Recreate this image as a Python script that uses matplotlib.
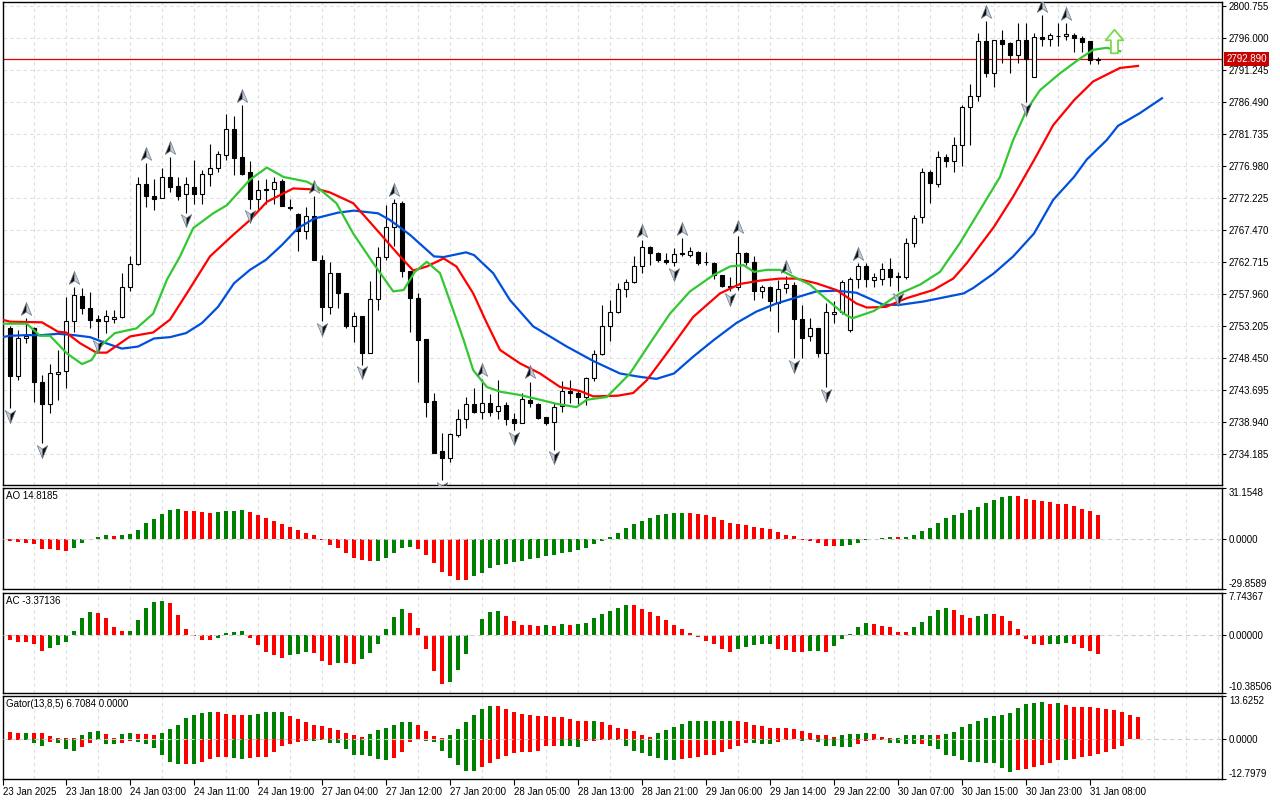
import matplotlib
matplotlib.use("Agg")
import matplotlib.pyplot as plt
import numpy as np
from matplotlib.path import Path

plt.rcParams["font.family"] = ["Liberation Sans", "DejaVu Sans"]
plt.rcParams["font.size"] = 7

# ---- price candles (H1 XAUUSD), bar index 0..136 ----
opens = [
    2752.8, 2745.8, 2751.4, 2752.8, 2744.8, 2741.5, 2746.0, 2746.4, 2753.9, 2757.6,
    2755.8, 2754.2, 2753.9, 2754.2, 2754.5, 2758.9, 2762.4, 2774.2, 2772.4, 2772.2,
    2775.3, 2773.9, 2772.7, 2773.8, 2772.7, 2775.8, 2776.7, 2778.6, 2782.4, 2778.2,
    2776.0, 2772.0, 2773.5, 2773.5, 2774.7, 2770.9, 2769.8, 2767.3, 2769.5, 2762.9,
    2756.0, 2761.0, 2758.0, 2753.1, 2754.6, 2749.2, 2757.1, 2763.4, 2767.8, 2771.4,
    2761.4, 2757.3, 2751.2, 2742.0, 2734.6, 2733.6, 2736.9, 2739.4, 2741.5, 2740.4,
    2741.7, 2740.5, 2741.4, 2739.4, 2738.8, 2742.2, 2741.5, 2739.6, 2738.9, 2741.2,
    2743.5, 2743.2, 2742.6, 2745.5, 2749.0, 2753.1, 2755.3, 2758.6, 2759.7, 2762.1,
    2764.9, 2764.0, 2763.0, 2762.6, 2764.0, 2763.7, 2764.2, 2762.7, 2762.5, 2760.7,
    2759.1, 2758.9, 2764.0, 2762.7, 2758.3, 2759.0, 2756.5, 2758.8, 2759.2, 2754.2,
    2751.6, 2752.8, 2749.1, 2755.0, 2755.3, 2752.6, 2760.1, 2762.0, 2760.0, 2760.2,
    2761.7, 2760.5, 2760.5, 2765.5, 2769.3, 2776.1, 2774.3, 2778.2, 2777.6, 2780.1,
    2785.7, 2787.4, 2795.5, 2790.7, 2795.6, 2795.2, 2793.4, 2795.6, 2790.2, 2796.1,
    2795.8, 2796.3, 2796.3, 2796.4, 2795.9, 2795.5, 2792.7,
]
highs = [
    2753.2, 2752.6, 2754.4, 2753.0, 2745.9, 2747.5, 2749.6, 2757.5, 2758.9, 2758.8,
    2758.2, 2754.8, 2755.5, 2755.6, 2761.0, 2763.5, 2775.3, 2777.4, 2775.0, 2776.7,
    2778.3, 2775.3, 2775.3, 2777.8, 2776.3, 2780.2, 2779.2, 2784.7, 2784.4, 2786.0,
    2777.6, 2774.9, 2775.0, 2775.3, 2775.0, 2772.1, 2770.0, 2770.9, 2772.5, 2763.7,
    2762.7, 2761.0, 2758.0, 2755.3, 2754.6, 2759.8, 2764.9, 2771.1, 2772.0, 2771.8,
    2761.4, 2758.0, 2751.2, 2743.2, 2737.2, 2737.2, 2740.8, 2742.6, 2743.9, 2745.3,
    2743.0, 2745.1, 2741.9, 2740.3, 2743.2, 2744.9, 2741.7, 2739.7, 2741.7, 2745.0,
    2745.1, 2743.6, 2745.6, 2749.6, 2756.3, 2757.0, 2759.5, 2760.2, 2763.6, 2765.9,
    2765.0, 2764.2, 2764.0, 2764.7, 2766.2, 2764.9, 2764.3, 2764.2, 2762.7, 2760.7,
    2760.5, 2766.5, 2764.2, 2763.5, 2759.3, 2759.1, 2760.0, 2760.6, 2759.7, 2756.3,
    2754.3, 2752.8, 2756.5, 2756.8, 2760.0, 2760.5, 2762.5, 2762.5, 2761.0, 2762.5,
    2763.2, 2761.2, 2766.3, 2769.7, 2776.6, 2776.3, 2779.2, 2778.7, 2781.3, 2786.0,
    2789.1, 2796.7, 2798.5, 2795.6, 2797.1, 2795.3, 2798.2, 2798.2, 2796.7, 2799.4,
    2796.7, 2798.2, 2798.2, 2796.7, 2796.3, 2795.5, 2793.2,
]
lows = [
    2740.9, 2745.1, 2750.6, 2741.9, 2735.8, 2740.3, 2742.1, 2744.0, 2752.3, 2754.9,
    2752.8, 2751.3, 2752.1, 2753.6, 2754.3, 2758.3, 2762.2, 2770.9, 2770.4, 2772.2,
    2773.1, 2771.9, 2770.0, 2771.3, 2771.3, 2773.9, 2776.1, 2777.8, 2775.6, 2775.6,
    2770.6, 2770.6, 2771.3, 2771.3, 2771.0, 2770.4, 2764.3, 2766.1, 2762.9, 2753.9,
    2755.0, 2755.8, 2752.8, 2750.8, 2747.4, 2749.2, 2755.6, 2763.0, 2765.0, 2760.5,
    2752.3, 2744.9, 2739.6, 2734.3, 2730.3, 2733.0, 2736.7, 2738.0, 2740.2, 2739.3,
    2739.8, 2739.4, 2738.4, 2737.7, 2738.8, 2741.1, 2739.3, 2738.4, 2734.8, 2740.4,
    2741.7, 2741.5, 2741.4, 2745.0, 2748.8, 2751.0, 2755.1, 2757.4, 2759.6, 2761.0,
    2762.2, 2762.6, 2762.4, 2762.1, 2763.6, 2763.4, 2762.2, 2762.2, 2760.1, 2759.0,
    2758.3, 2758.5, 2762.2, 2757.0, 2757.3, 2755.4, 2752.2, 2758.0, 2748.4, 2748.4,
    2751.0, 2748.6, 2744.1, 2753.6, 2754.9, 2752.3, 2758.8, 2758.9, 2759.0, 2759.2,
    2759.1, 2758.3, 2760.2, 2764.9, 2768.5, 2771.4, 2773.8, 2776.8, 2776.1, 2777.0,
    2780.1, 2786.6, 2790.2, 2788.7, 2792.2, 2790.7, 2792.2, 2786.5, 2790.2, 2794.7,
    2794.7, 2794.7, 2795.6, 2793.9, 2793.9, 2792.1, 2792.1,
]
closes = [
    2745.8, 2751.3, 2751.7, 2744.8, 2741.5, 2746.1, 2746.3, 2753.9, 2757.8, 2755.8,
    2754.0, 2753.9, 2754.7, 2754.5, 2758.9, 2762.4, 2774.2, 2772.4, 2772.1, 2775.3,
    2773.8, 2772.5, 2774.2, 2772.7, 2775.8, 2776.7, 2778.7, 2782.4, 2778.1, 2775.7,
    2772.1, 2773.4, 2773.4, 2774.6, 2771.0, 2770.7, 2767.3, 2769.5, 2762.9, 2756.0,
    2761.0, 2758.0, 2753.1, 2754.6, 2749.2, 2757.1, 2763.4, 2767.9, 2771.4, 2761.4,
    2757.3, 2751.1, 2741.9, 2734.3, 2733.6, 2737.1, 2739.3, 2741.5, 2740.4, 2741.7,
    2740.4, 2741.3, 2739.4, 2738.7, 2742.3, 2741.7, 2739.5, 2738.7, 2741.1, 2743.5,
    2743.2, 2742.6, 2745.5, 2749.0, 2753.1, 2755.3, 2758.6, 2759.7, 2762.1, 2764.9,
    2764.0, 2763.0, 2762.6, 2763.8, 2763.8, 2764.3, 2762.5, 2762.6, 2760.7, 2759.1,
    2758.9, 2764.0, 2762.7, 2758.3, 2759.0, 2756.8, 2758.6, 2759.4, 2754.2, 2751.4,
    2752.8, 2749.2, 2755.2, 2755.2, 2759.7, 2760.1, 2762.0, 2760.1, 2760.4, 2761.7,
    2760.4, 2760.4, 2765.5, 2769.2, 2776.1, 2774.4, 2778.2, 2777.6, 2780.1, 2785.7,
    2787.4, 2795.5, 2790.7, 2795.6, 2795.1, 2793.4, 2795.6, 2792.9, 2796.1, 2795.8,
    2796.4, 2796.2, 2796.5, 2795.9, 2795.4, 2792.7, 2792.89,
]
last_price = 2792.890

up_fractals = [2, 8, 17, 20, 29, 38, 48, 59, 65, 79, 84, 91, 97, 106, 122, 129, 132]
down_fractals = [0, 4, 11, 22, 30, 39, 44, 54, 63, 68, 83, 90, 98, 102, 111, 127]
signal_bar, signal_price = 138, 2795.5

# ---- Alligator lines (bar index, price) ----
jaw_x = [-1, 0, 2, 4, 6, 8, 10, 12, 14, 16, 18, 20, 22, 24, 26, 28, 30, 32, 34, 36, 38, 41, 43, 46,
         47.5, 50, 53, 54.2, 57, 58, 60.4, 62.5, 65.4, 69.6, 73, 76.25, 78.75, 80.8, 83, 85.4, 88,
         90.8, 93.3, 95.8, 98.3, 100.8, 103.3, 105.8, 109.2, 111.25, 114.2, 119.2, 120.4, 123, 125.4,
         128, 130.4, 133, 134.6, 137.1, 138.5, 141.25, 144]
jaw_y = [2751.5, 2751.7, 2751.8, 2751.8, 2752.0, 2751.8, 2751.5, 2750.6, 2749.8, 2750.1, 2751.3,
         2751.5, 2752.1, 2753.6, 2756.0, 2759.5, 2761.5, 2763.0, 2765.2, 2767.7, 2769.1, 2770.0,
         2770.3, 2769.9, 2768.9, 2766.7, 2763.5, 2763.4, 2764.1, 2763.7, 2761.0, 2757.0, 2753.1,
         2750.1, 2747.9, 2746.1, 2745.6, 2745.3, 2746.1, 2748.6, 2751.1, 2753.6, 2755.3, 2756.5,
         2757.4, 2758.3, 2758.4, 2758.1, 2756.3, 2756.3, 2756.8, 2758.0, 2758.8, 2761.0, 2763.5,
         2766.9, 2771.9, 2775.3, 2777.9, 2780.8, 2782.9, 2784.8, 2787.0]
teeth_x = [-1, 0, 4, 6, 7, 8.75, 10.8, 12.1, 15, 17.9, 20, 22.1, 25, 27.9, 30, 32.1, 35.4, 38.75, 40,
           42.9, 46.25, 48.75, 50.4, 52.1, 54.2, 55.8, 57.9, 59.6, 61.25, 63.75, 66.25, 68.75, 71.25,
           72.9, 76, 77.9, 79.6, 82.1, 85.4, 88.75, 91.25, 93.75, 96.25, 98.3, 100.8, 103.3, 105.8,
           107.1, 109.5, 112.1, 115.4, 117.9, 119.6, 123, 125.4, 128, 130.4, 133, 135.4, 138.75, 141]
teeth_y = [2754.1, 2753.8, 2753.7, 2752.3, 2752.2, 2750.6, 2749.2, 2749.2, 2751.6, 2752.2, 2754.1,
           2758.0, 2763.5, 2766.7, 2768.9, 2771.6, 2773.6, 2773.4, 2773.0, 2771.4, 2766.9, 2763.5,
           2761.4, 2762.0, 2763.2, 2762.0, 2758.0, 2753.6, 2749.6, 2747.6, 2746.1, 2744.1, 2743.5,
           2742.7, 2742.8, 2743.2, 2745.1, 2749.1, 2754.5, 2758.0, 2759.4, 2759.9, 2760.2, 2760.2,
           2759.5, 2758.5, 2756.5, 2755.9, 2756.0, 2757.3, 2758.5, 2760.2, 2762.5, 2767.9, 2772.4,
           2777.8, 2783.0, 2786.7, 2789.5, 2791.5, 2791.8]
lips_x = [-1, 2.1, 3.75, 5, 7.1, 9, 10.2, 11.25, 13.1, 15.8, 17.9, 19.6, 21.25, 22.9, 25.4, 27.1, 30,
          32.1, 34.2, 37.1, 38.5, 40.8, 42.9, 45.4, 47.9, 49.2, 50.6, 52.1, 53.75, 55.4, 56.7, 57.9,
          59.6, 61.25, 63.75, 66.25, 68.3, 70.8, 72.1, 74.6, 77.5, 80, 82.5, 85, 87.9, 90, 91.7, 93,
          94.6, 96.25, 97.9, 100, 101.7, 104.2, 105.3, 108, 111.25, 113.75, 116.25, 118.75, 121.25,
          123.75, 125.4, 127.1, 128.75, 131.25, 133.75, 135.4, 137.1, 138.75]
lips_y = [2753.5, 2753.5, 2751.7, 2751.7, 2749.1, 2747.5, 2748.1, 2750.1, 2752.1, 2752.8, 2755.0,
          2760.0, 2763.5, 2767.7, 2769.9, 2771.1, 2774.9, 2776.7, 2775.3, 2774.6, 2773.7, 2771.4,
          2766.9, 2762.5, 2758.3, 2758.5, 2761.2, 2762.7, 2761.0, 2755.5, 2751.1, 2746.6, 2744.1,
          2743.4, 2742.9, 2742.2, 2741.6, 2741.1, 2742.2, 2742.6, 2746.1, 2750.6, 2755.0, 2758.3,
          2760.7, 2762.0, 2762.2, 2761.2, 2761.5, 2761.5, 2760.5, 2759.3, 2757.5, 2755.0, 2754.3,
          2755.4, 2758.0, 2759.3, 2761.2, 2765.5, 2770.4, 2775.3, 2780.8, 2785.3, 2788.2, 2790.7,
          2792.9, 2794.2, 2794.5, 2794.0]

# ---- Awesome Oscillator ----
ao_values = [
    -1.0, -1.6, -2.1, -3.1, -5.9, -5.7, -6.5, -7.1, -5.4, -2.1,
    0.3, 1.2, 2.6, 1.8, 2.6, 3.1, 5.9, 9.8, 12.4, 15.5,
    17.7, 18.3, 17.1, 17.0, 16.7, 15.9, 16.3, 17.1, 17.2, 17.7,
    16.7, 14.9, 12.9, 11.3, 9.0, 7.7, 5.7, 4.1, 2.6, -0.2,
    -3.3, -5.4, -8.3, -11.3, -12.4, -12.9, -12.8, -11.3, -8.3, -5.1,
    -4.6, -5.9, -9.5, -14.2, -19.5, -22.2, -24.2, -24.3, -22.2, -20.1,
    -17.5, -15.4, -14.7, -13.6, -12.9, -11.8, -11.3, -10.0, -9.5, -8.3,
    -7.7, -6.5, -5.3, -2.9, -1.0, 1.2, 4.1, 7.1, 9.5, 11.3,
    12.9, 14.7, 15.4, 15.9, 16.0, 15.9, 15.4, 14.6, 13.6, 11.8,
    10.0, 9.5, 8.8, 7.7, 7.1, 6.5, 4.7, 2.9, 1.8, -0.2,
    -1.0, -2.3, -4.1, -4.15, -4.1, -3.6, -2.3, -0.4, 0.3, 0.6,
    1.6, 1.2, 1.6, 2.9, 5.3, 7.1, 10.0, 12.9, 14.9, 15.9,
    17.7, 19.5, 21.9, 23.6, 25.4, 26.0, 25.95, 24.2, 23.6, 23.0,
    22.4, 21.3, 21.2, 20.1, 18.3, 17.1, 14.8,
]
ao_colors = ("rrrrrrrrgg" "gggrgggggg" "ggrrrrgggg" "rrrrrrrrrr" "rrrrrrgggg"
             "grrrrrrrgg" "gggggggggg" "gggggggggg" "gggggrrrrr" "rrrrrrrrrr"
             "rrrrgggggg" "grgggggggg" "ggggggrrrr" "rrrrrrr")

# ---- Accelerator Oscillator ----
ac_values = [
    -0.91, -1.21, -1.27, -1.64, -2.91, -2.31, -1.82, -1.27, 0.73, 3.16,
    4.13, 4.1, 3.10, 1.46, 0.73, 0.75, 2.73, 4.98, 6.01, 6.19,
    5.77, 3.64, 1.21, -0.1, -0.85, -0.87, -0.49, 0.49, 0.5, 0.85,
    -0.49, -1.82, -3.1, -3.64, -4.13, -3.64, -3.4, -3.1, -3.22, -4.73,
    -5.46, -5.04, -5.06, -5.28, -4.37, -3.22, -1.64, 1.09, 3.28, 4.73,
    4.0, 1.27, -2.55, -6.49, -8.92, -8.5, -6.31, -3.46, 0.1, 2.91,
    4.19, 4.37, 3.46, 2.55, 1.82, 1.8, 1.64, 1.82, 1.64, 2.0,
    1.82, 2.0, 2.19, 3.1, 3.82, 4.37, 4.92, 5.46, 5.44, 4.73,
    4.19, 3.46, 2.73, 1.82, 1.09, 0.36, -0.36, -1.09, -1.64, -2.55,
    -3.1, -2.55, -2.19, -1.82, -1.64, -1.62, -2.55, -2.73, -3.1, -3.12,
    -2.91, -2.9, -3.1, -2.0, -0.73, 0.18, 1.46, 2.19, 2.0, 1.64,
    1.52, 0.61, 0.6, 1.4, 2.43, 3.52, 4.61, 4.98, 4.61, 3.7,
    3.16, 3.52, 3.88, 3.86, 3.52, 2.61, 1.15, -0.73, -1.52, -1.7,
    -1.65, -1.6, -1.33, -1.52, -2.24, -2.79, -3.37,
]
ac_colors = ("rrrrrggggg" "grrrrggggg" "rrrrrrgggg" "rrrrrgggrr" "rgrrgggggg"
             "rrrrrggggg" "ggrrrrrgrg" "rgggggggrr" "rrrrrrrrrr" "rgggggrrrr"
             "ggrgggggrr" "rrrgggggrr" "rggrrrrrrr" "gggrrrr")

# ---- Gator Oscillator (first value is bar -1) ----
gator_start = -1
gator_up = [
    2.75, 2.1, 1.9, 1.65, 1.9, 1.9, 0.8, 0.1, 0.1, 0.1, 1.0,
    2.0, 2.4, 1.4, 0.3, 1.4, 1.65, 1.4, 1.4, 1.1, 1.65,
    3.0, 4.4, 6.4, 7.4, 8.0, 8.25, 8.25, 7.9, 7.6, 7.4,
    7.6, 7.7, 8.25, 8.3, 8.3, 7.1, 6.05, 5.2, 4.4, 4.1,
    3.4, 2.75, 1.65, 1.0, 0.55, 1.4, 2.75, 3.3, 4.2, 5.1,
    5.1, 4.4, 2.4, 0.8, 0.1, 1.1, 3.1, 5.1, 7.4, 9.35,
    10.3, 10.3, 9.35, 8.4, 7.7, 7.4, 7.0, 7.0, 6.7, 6.7,
    6.05, 5.4, 5.4, 5.4, 5.1, 4.4, 3.4, 3.0, 2.4, 1.1,
    0.45, 1.75, 2.75, 3.75, 4.7, 5.4, 5.4, 5.4, 5.4, 5.7,
    5.7, 5.4, 5.1, 4.4, 4.05, 3.4, 3.4, 3.4, 3.0, 2.4,
    1.75, 1.1, 1.1, 0.45, 1.1, 1.4, 1.4, 1.75, 1.4, 0.45,
    0.1, 0.2, 1.0, 1.1, 1.1, 1.1, 1.1, 1.4, 2.2, 3.75,
    4.7, 5.7, 6.4, 7.0, 7.35, 8.0, 9.55, 10.8, 11.2, 11.45,
    10.8, 11.2, 10.5, 9.85, 9.85, 9.85, 9.55, 9.25, 8.9, 8.3, 7.35, 6.71,
]
gator_up_colors = ("rrrgrrrrrrg" "ggrrggrrrg" "ggggggrrrr" "gggggrrrrr" "rrrrrggggg"
                   "grrrrggggg" "grrrrrrrrr" "rrrgrrrrrr" "rggggggggg" "grrrrrrrrr"
                   "rrrrggggrr" "rgggggrggg" "gggggggggg" "rgrrrrrrrrrr")
gator_down = [
    0.0, -0.3, -0.3, -0.3, -1.4, -2.2, -1.1, -1.4, -3.4, -3.9, -2.75,
    -1.5, -0.3, -1.8, -1.8, -1.4, -0.8, -1.1, -1.8, -3.1, -5.2,
    -7.5, -8.1, -8.1, -8.15, -7.4, -6.4, -5.9, -5.7, -6.05, -6.4,
    -6.05, -5.8, -5.7, -4.1, -2.2, -1.65, -1.0, -0.8, -0.85, -0.55,
    -1.4, -1.4, -3.4, -5.2, -5.2, -5.5, -6.4, -6.8, -6.05, -4.1,
    -1.1, -0.55, -0.8, -1.1, -3.85, -6.05, -8.4, -10.3, -10.3, -9.1,
    -7.7, -6.4, -5.5, -4.7, -4.4, -4.4, -3.85, -2.5, -2.5, -2.5,
    -2.5, -2.75, -0.8, -0.8, -0.55, -0.3, -0.55, -2.4, -3.85, -4.7,
    -5.4, -6.05, -6.7, -6.7, -6.4, -6.05, -5.7, -5.05, -5.05, -4.4,
    -3.3, -2.2, -1.4, -1.4, -1.65, -1.75, -1.1, -0.55, -0.2, -0.8,
    -0.55, -1.1, -2.4, -2.4, -2.75, -2.75, -1.75, -0.8, -0.55, -0.6,
    -1.4, -1.4, -1.75, -1.75, -1.75, -2.2, -3.4, -5.05, -5.4, -6.7,
    -7.4, -7.4, -7.7, -7.65, -9.25, -10.5, -10.0, -9.65, -8.9, -8.4,
    -7.65, -6.85, -6.85, -6.5, -5.9, -5.55, -4.95, -4.3, -3.35, -2.4,
]
gator_down_colors = ("rrrgggrgggr" "rrggrrgggg" "ggrgrrrrgg" "rrrrrrrrgg" "ggggggggrr"
                     "rrgggggggr" "rrrrrrrrrg" "ggrrrrgggg" "ggggrrrrrr" "rrrgggrrgg"
                     "rgggggrrrg" "ggggrggggg" "ggggggrrrr" "rrgrrrrrrr")

time_labels = ["23 Jan 2025", "23 Jan 18:00", "24 Jan 03:00", "24 Jan 11:00", "24 Jan 19:00",
               "27 Jan 04:00", "27 Jan 12:00", "27 Jan 20:00", "28 Jan 05:00", "28 Jan 13:00",
               "28 Jan 21:00", "29 Jan 06:00", "29 Jan 14:00", "29 Jan 22:00", "30 Jan 07:00",
               "30 Jan 15:00", "30 Jan 23:00", "31 Jan 08:00"]

price_ticks = [2800.755, 2796.000, 2791.245, 2786.490, 2781.735, 2776.980, 2772.225, 2767.470,
               2762.715, 2757.960, 2753.205, 2748.450, 2743.695, 2738.940, 2734.185]

GREEN = "#008000"
RED = "#ff0000"
COLOR_MAP = {"g": GREEN, "r": RED}
GRID = "#dedede"
X_LEFT, X_RIGHT = -0.875, 151.5


def px_rect(left, top, right, bottom, w=1280, h=800):
    return [left / w, 1 - bottom / h, (right - left) / w, (bottom - top) / h]


fig = plt.figure(figsize=(12.8, 8), dpi=100)
ax_main = fig.add_axes(px_rect(3, 2, 1222, 485))
ax_ao = fig.add_axes(px_rect(3, 487.5, 1222, 589))
ax_ac = fig.add_axes(px_rect(3, 592.5, 1222, 692.5))
ax_gt = fig.add_axes(px_rect(3, 695.5, 1222, 779))

grid_bars = np.arange(3, 152, 4)
for ax in (ax_main, ax_ao, ax_ac, ax_gt):
    ax.set_xlim(X_LEFT, X_RIGHT)
    ax.set_xticks([])
    ax.set_xticks(grid_bars, minor=True)
    ax.grid(which="minor", axis="x", color=GRID, linestyle=(0, (3, 3)), linewidth=0.8)
    ax.tick_params(axis="x", which="minor", length=0)
    ax.set_axisbelow(True)
    ax.yaxis.tick_right()
    ax.tick_params(axis="y", direction="out", length=3, width=0.8, pad=2, labelsize=7, colors="black")
    for sp in ax.spines.values():
        sp.set_color("black")
        sp.set_linewidth(1.0)

# ---- main price panel ----
o = np.array(opens)
h = np.array(highs)
lo = np.array(lows)
c = np.array(closes)
bars = np.arange(len(o))
bull = c >= o

ax_main.axhline(last_price, color="#e00000", linewidth=0.9, zorder=1.5)
ax_main.vlines(bars, lo, h, color="black", linewidth=0.8, zorder=2)
body_low = np.minimum(o, c)
body_h = np.maximum(np.abs(c - o), 0.12)
ax_main.bar(bars, body_h, bottom=body_low, width=0.62,
            color=np.where(bull, "white", "black"), edgecolor="black", linewidth=0.8, zorder=3)

ax_main.plot(jaw_x, jaw_y, color="#0050dc", linewidth=1.6, zorder=4)
ax_main.plot(teeth_x, teeth_y, color="#ff0000", linewidth=1.6, zorder=4)
ax_main.plot(lips_x, lips_y, color="#32c832", linewidth=1.6, zorder=4)

# fractal arrows: two halves, one dark and one light, like the terminal's 3D arrowheads
CLOSED3 = [Path.MOVETO, Path.LINETO, Path.LINETO, Path.CLOSEPOLY]
up_left = Path([(0, 1), (-0.75, -0.85), (0, -0.35), (0, 1)], CLOSED3)
up_right = Path([(0, 1), (0.75, -0.85), (0, -0.35), (0, 1)], CLOSED3)
dn_left = Path([(0, -1), (-0.75, 0.85), (0, 0.35), (0, -1)], CLOSED3)
dn_right = Path([(0, -1), (0.75, 0.85), (0, 0.35), (0, -1)], CLOSED3)
up_y = h[up_fractals] + 1.35
dn_y = lo[down_fractals] - 1.15
for marker, xs, ys, face in ((up_left, up_fractals, up_y, "#111111"),
                             (up_right, up_fractals, up_y, "#c3ccd6"),
                             (dn_left, down_fractals, dn_y, "#c3ccd6"),
                             (dn_right, down_fractals, dn_y, "#111111")):
    ax_main.plot(xs, ys, linestyle="none", marker=marker, markersize=10,
                 markerfacecolor=face, markeredgecolor="#6f7c8a", markeredgewidth=0.5, zorder=6)

signal_marker = Path([(-0.3, -1), (0.3, -1), (0.3, 0.1), (0.75, 0.1), (0, 1), (-0.75, 0.1),
                      (-0.3, 0.1), (-0.3, -1)],
                     [Path.MOVETO] + [Path.LINETO] * 6 + [Path.CLOSEPOLY])
ax_main.plot([signal_bar], [signal_price], linestyle="none", marker=signal_marker, markersize=17,
             markerfacecolor="white", markeredgecolor="#7cd94c", markeredgewidth=1.3, zorder=6)

ax_main.set_ylim(2729.53, 2801.30)
ax_main.set_yticks(price_ticks)
ax_main.set_yticklabels([f"{p:.3f}" for p in price_ticks])
ax_main.grid(which="major", axis="y", color=GRID, linestyle=(0, (3, 3)), linewidth=0.8)
ax_main.annotate(f"{last_price:.3f}", xy=(1, last_price), xycoords=("axes fraction", "data"),
                 xytext=(3, 0), textcoords="offset points", ha="left", va="center",
                 color="white", fontsize=7, annotation_clip=False,
                 bbox=dict(boxstyle="square,pad=0.2", fc="#c80000", ec="none"))


def oscillator_axis(ax, top, bottom, labels, title):
    ax.set_ylim(bottom, top)
    ax.set_yticks([bottom, 0, top])
    ax.set_yticklabels(labels)
    ticks = ax.yaxis.get_major_ticks()
    ticks[0].label2.set_verticalalignment("bottom")
    ticks[-1].label2.set_verticalalignment("top")
    ax.axhline(0, color="#cfcfcf", linestyle=(0, (4, 3)), linewidth=0.8, zorder=3)
    ax.annotate(title, xy=(0, 1), xycoords="axes fraction", xytext=(2.2, -2.5),
                textcoords="offset points", ha="left", va="top", fontsize=7)


ax_ao.bar(bars, ao_values, width=0.6, color=[COLOR_MAP[k] for k in ao_colors], linewidth=0, zorder=2)
oscillator_axis(ax_ao, 31.1548, -29.8589, ["-29.8589", "0.0000", "31.1548"], "AO 14.8185")

ax_ac.bar(bars, ac_values, width=0.6, color=[COLOR_MAP[k] for k in ac_colors], linewidth=0, zorder=2)
oscillator_axis(ax_ac, 7.74367, -10.38506, ["-10.38506", "0.00000", "7.74367"], "AC -3.37136")

gx_up = np.arange(len(gator_up)) + gator_start
gx_dn = np.arange(len(gator_down)) + gator_start
ax_gt.bar(gx_up, gator_up, width=0.6, color=[COLOR_MAP[k] for k in gator_up_colors], linewidth=0, zorder=2)
ax_gt.bar(gx_dn, gator_down, width=0.6, color=[COLOR_MAP[k] for k in gator_down_colors], linewidth=0, zorder=2)
oscillator_axis(ax_gt, 13.6252, -12.7979, ["-12.7979", "0.0000", "13.6252"], "Gator(13,8,5) 6.7084 0.0000")

label_bars = [X_LEFT] + [7 + 8 * j for j in range(len(time_labels) - 1)]
ax_gt.set_xticks(label_bars)
ax_gt.set_xticklabels(time_labels)
ax_gt.tick_params(axis="x", which="major", direction="out", length=4, width=0.8, pad=1.5,
                  labelsize=7, labelbottom=True)
for lbl in ax_gt.get_xticklabels():
    lbl.set_horizontalalignment("left")

fig.savefig("out.png", dpi=100)
